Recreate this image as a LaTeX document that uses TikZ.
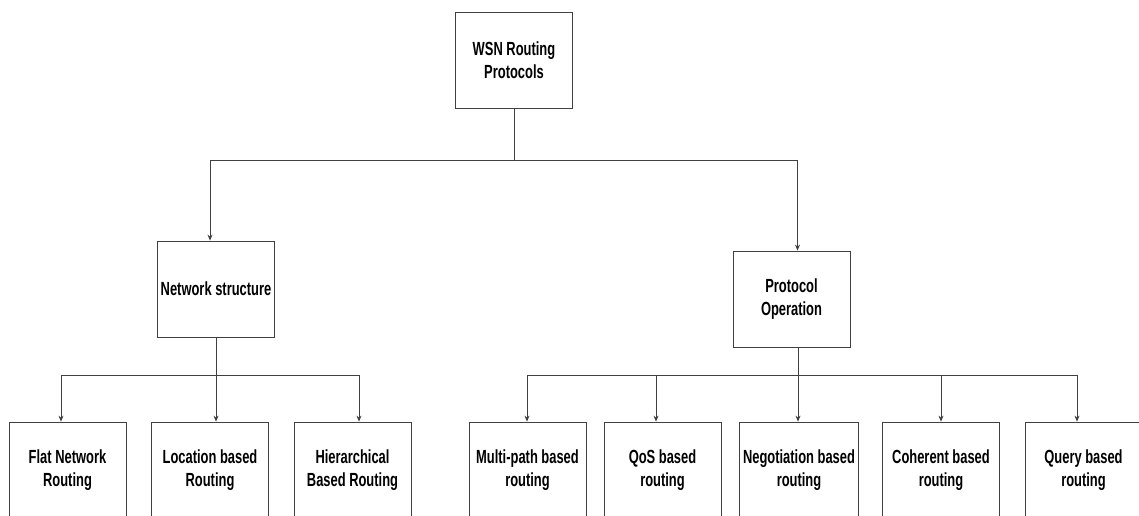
\documentclass[tikz,border=0pt]{standalone}
\usepackage{fontspec}
\setmainfont{Liberation Sans}[FakeStretch=0.68]
\usetikzlibrary{arrows.meta}

\begin{document}
\begin{tikzpicture}
  [x=1pt,y=-1pt,line width=0.8pt,
   every node/.style={draw=black!75,minimum width=117pt,minimum height=96pt,
     align=center,font=\fontsize{19}{23}\selectfont\bfseries},
   arr/.style={draw=black!75,-{Stealth[length=6pt,width=5pt]}}]
  \useasboundingbox (0,0) rectangle (1139,516);
  \clip (0,0) rectangle (1139,516);
  \node (root) at (514,60) {WSN Routing\\Protocols};
  \node (net) at (216,289) {Network structure};
  \node (proto) at (791.5,299) {Protocol\\Operation};

  \node (flat) at (67.5,470) {Flat Network\\Routing};
  \node (loc) at (210,470) {Location based\\Routing};
  \node (hier) at (352.5,470) {Hierarchical\\Based Routing};

  \node (multi) at (527.5,470) {Multi-path based\\routing};
  \node (qos) at (662.5,470) {QoS based\\routing};
  \node (nego) at (799,470) {Negotiation based\\routing};
  \node (coh) at (941,470) {Coherent based\\routing};
  \node (query) at (1083.5,470) {Query based\\routing};

  \draw[black!75] (root.south) -- ++(0,52) coordinate (topbus);
  \draw[arr] (topbus) -| ([xshift=-6pt]net.north);
  \draw[arr] (topbus) -| ([xshift=6pt]proto.north);

  \draw[black!75] (net.south) -- ++(0,38) coordinate (busl);
  \foreach \to/\dx in {flat/-6.5,loc/6,hier/6.5}
    \draw[arr] (busl) -| ([xshift=\dx pt]\to.north);

  \draw[black!75] ([xshift=6.5pt]proto.south) -- ++(0,28) coordinate (busr);
  \foreach \to/\dx in {multi/-0.5,qos/-6.5,nego/-1,coh/0,query/-6.5}
    \draw[arr] (busr) -| ([xshift=\dx pt]\to.north);

\end{tikzpicture}
\end{document}
